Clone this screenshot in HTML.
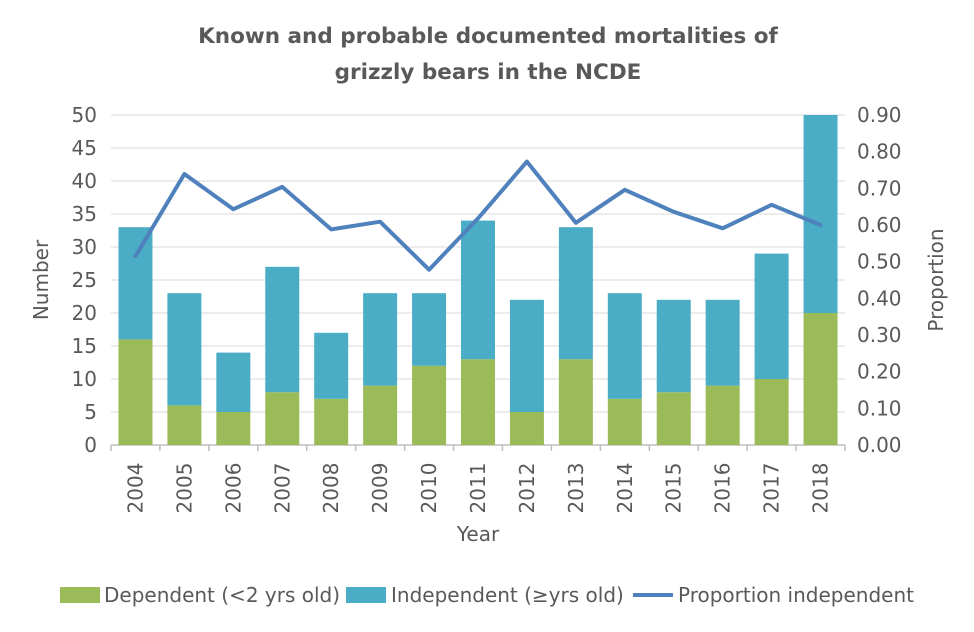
<!DOCTYPE html>
<html><head><meta charset="utf-8"><style>
body{margin:0;background:#fff}
svg text{font-family:"DejaVu Sans","Liberation Sans",sans-serif;fill:#595959}
</style></head><body>
<svg id="chart" width="974" height="627" viewBox="0 0 974 627" xmlns="http://www.w3.org/2000/svg">
<text x="488" y="43" text-anchor="middle" font-size="21.5" font-weight="bold">Known and probable documented mortalities of</text>
<text x="488" y="79" text-anchor="middle" font-size="21.5" font-weight="bold">grizzly bears in the NCDE</text>
<g id="grid"></g><g id="bars"></g><g id="axes"></g><g id="line"></g>
<text transform="translate(48,280) rotate(-90)" text-anchor="middle" font-size="20">Number</text>
<text transform="translate(943,280) rotate(-90)" text-anchor="middle" font-size="20">Proportion</text>
<text x="478" y="541" text-anchor="middle" font-size="20">Year</text>
<g>
<rect x="60" y="587" width="40" height="16" fill="#9bbb59"/>
<text x="104" y="602" font-size="20">Dependent (&lt;2 yrs old)</text>
<rect x="346" y="587" width="40" height="16" fill="#4bacc6"/>
<text x="391" y="602" font-size="20">Independent (≥yrs old)</text>
<line x1="633" y1="595" x2="673" y2="595" stroke="#4f81bd" stroke-width="4"/>
<text x="678" y="602" font-size="20">Proportion independent</text>
</g>
</svg>
<script>
const years=["2004","2005","2006","2007","2008","2009","2010","2011","2012","2013","2014","2015","2016","2017","2018"];
const dependent=[16,6,5,8,7,9,12,13,5,13,7,8,9,10,20];
const independent=[17,17,9,19,10,14,11,21,17,20,16,14,13,19,30];
const proportion=[0.515,0.739,0.643,0.704,0.588,0.609,0.478,0.618,0.773,0.606,0.696,0.636,0.591,0.655,0.600];
const leftTicks=[0,5,10,15,20,25,30,35,40,45,50];
const rightTicks=["0.00","0.10","0.20","0.30","0.40","0.50","0.60","0.70","0.80","0.90"];
const NS="http://www.w3.org/2000/svg";
const X0=111,X1=845,Y0=445,Y1=115;
const band=(X1-X0)/years.length;
const xc=i=>X0+band*(i+0.5);
const y=v=>Y0-(v/50)*(Y0-Y1);
const y2=v=>Y0-(v/0.9)*(Y0-Y1);
function mk(tag,attrs,parent){const e=document.createElementNS(NS,tag);for(const k in attrs)e.setAttribute(k,attrs[k]);document.getElementById(parent).appendChild(e);return e;}
leftTicks.forEach(t=>{
 const g=mk('line',{x1:X0,x2:X1,y1:y(t),y2:y(t),stroke:t===0?'#bfbfbf':'#d9d9d9','stroke-width':t===0?1.5:1},'grid');
 
 
 const l=mk('text',{x:X0-14,y:y(t)+7,'text-anchor':'end','font-size':20},'axes');l.textContent=t;
 
 
});
rightTicks.forEach(t=>{
 const l=mk('text',{x:X1+12,y:y2(+t)+7,'font-size':20},'axes');l.textContent=t;
 
 
});
for(let i=0;i<=years.length;i++){
 const tk=mk('line',{x1:X0+band*i,x2:X0+band*i,y1:Y0,y2:Y0+6,stroke:'#bfbfbf','stroke-width':1.5},'axes');
 
 
}
const bw=34;
years.forEach((yr,i)=>{
 const d=mk('rect',{x:xc(i)-bw/2,y:y(dependent[i]),width:bw,height:Y0-y(dependent[i]),fill:'#9bbb59'},'bars');
 
 
 const tot=dependent[i]+independent[i];
 const n=mk('rect',{x:xc(i)-bw/2,y:y(tot),width:bw,height:y(dependent[i])-y(tot),fill:'#4bacc6'},'bars');
 
 
 const l=mk('text',{transform:`translate(${xc(i)+7},${Y0+43}) rotate(-90)`,'text-anchor':'middle','font-size':20},'axes');l.textContent=yr;
 
 
});
const pts=proportion.map((p,i)=>xc(i)+','+y2(p)).join(' ');
const pl=mk('polyline',{points:pts,fill:'none',stroke:'#4f81bd','stroke-width':4,'stroke-linejoin':'round','stroke-linecap':'round'},'line');


</script>
</body></html>
